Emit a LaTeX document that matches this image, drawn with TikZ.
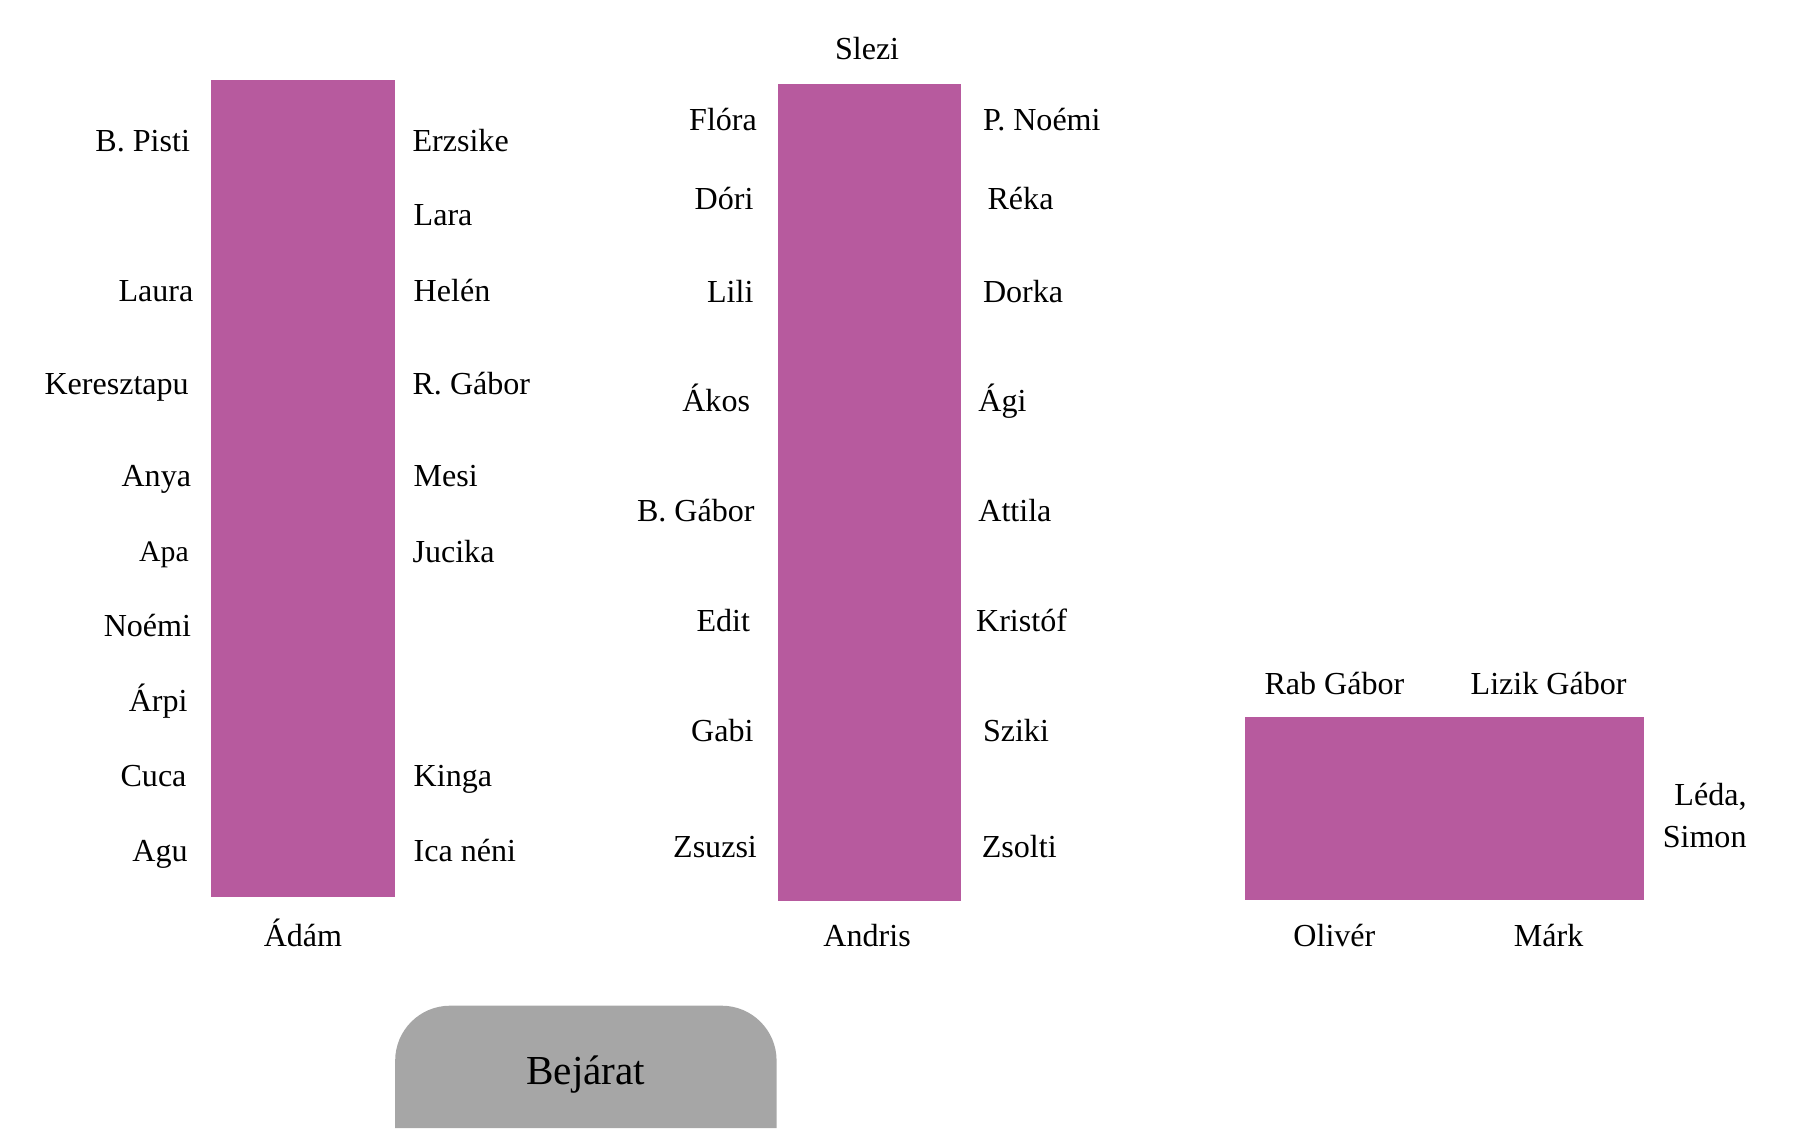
\documentclass[tikz,border=0pt]{standalone}
\usepackage{fontspec}
\setmainfont{Liberation Serif}
\definecolor{tablecol}{RGB}{183,90,158}
\definecolor{doorcol}{RGB}{166,166,166}
\begin{document}
\begin{tikzpicture}[x=1pt,y=-1pt,
  tbl/.style={fill=tablecol, draw=none, inner sep=0pt, outer sep=0pt},
  namefont/.style={inner sep=0pt, font=\fontsize{28}{37}\selectfont},
  lname/.style={namefont, anchor=base east},
  rname/.style={namefont, anchor=base west},
  cname/.style={namefont, anchor=base}]
\useasboundingbox (0,0) rectangle (1568,985);
% tables
\node[tbl, minimum width=161pt, minimum height=713pt] (adamtable) at (264.5,426.5) {};
\node[tbl, minimum width=160pt, minimum height=714pt] (andristable) at (759,430) {};
\node[tbl, minimum width=348pt, minimum height=160pt] (thirdtable) at (1261,706) {};
% entrance
\fill[doorcol] (345,985) [rounded corners=48pt] -- (345,878) -- (678,878) [sharp corners] -- (678,985) -- cycle;
\node[inner sep=0pt, anchor=base, font=\fontsize{36}{40}\selectfont] (entrance) at (511.5,947) {Bejárat};
% table 1 left
\node[lname] (bpisti) at (166,132) {B. Pisti};
\node[lname] (laura) at (169,263) {Laura};
\node[lname] (kereszt) at (165,344) {Keresztapu};
\node[lname] (anya) at (167,425) {Anya};
\node[lname, font=\fontsize{26}{30}\selectfont] (apa) at (165,490) {Apa};
\node[lname] (noemi) at (167,556) {Noémi};
\node[lname] (arpi) at (164,621) {Árpi};
\node[lname] (cuca) at (163,687) {Cuca};
\node[lname] (agu) at (164,752) {Agu};
% table 1 right
\node[rname] (erzsike) at (360,132) {Erzsike};
\node[rname] (lara) at (361,197) {Lara};
\node[rname] (helen) at (361,263) {Helén};
\node[rname] (rgabor) at (360,344) {R. Gábor};
\node[rname] (mesi) at (361,425) {Mesi};
\node[rname] (jucika) at (360,491) {Jucika};
\node[rname] (kinga) at (361,687) {Kinga};
\node[rname] (icaneni) at (361,752) {Ica néni};
\node[cname] (adam) at (264.5,826) {Ádám};
% table 2 left
\node[lname] (flora) at (661,114) {Flóra};
\node[lname] (dori) at (658,183) {Dóri};
\node[lname] (lili) at (658,264) {Lili};
\node[lname] (akos) at (655,359) {Ákos};
\node[lname] (bgabor) at (659,455) {B. Gábor};
\node[lname] (edit) at (655,551) {Edit};
\node[lname] (gabi) at (658,647) {Gabi};
\node[lname] (zsuzsi) at (661,749) {Zsuzsi};
% table 2 right
\node[rname] (pnoemi) at (858,114) {P. Noémi};
\node[rname] (reka) at (862,183) {Réka};
\node[rname] (dorka) at (858,264) {Dorka};
\node[rname] (agi) at (854,359) {Ági};
\node[rname] (attila) at (854,455) {Attila};
\node[rname] (kristof) at (852,551) {Kristóf};
\node[rname] (sziki) at (858,647) {Sziki};
\node[rname] (zsolti) at (857,749) {Zsolti};
\node[cname] (slezi) at (757,52) {Slezi};
\node[cname] (andris) at (757,826) {Andris};
% table 3
\node[cname] (rabgabor) at (1165,606) {Rab Gábor};
\node[cname] (lizikgabor) at (1352,606) {Lizik Gábor};
\node[cname] (oliver) at (1165,826) {Olivér};
\node[cname] (mark) at (1352,826) {Márk};
\node[namefont, align=right, anchor=east] (ledasimon) at (1525,712) {Léda,\\Simon};
\end{tikzpicture}
\end{document}
